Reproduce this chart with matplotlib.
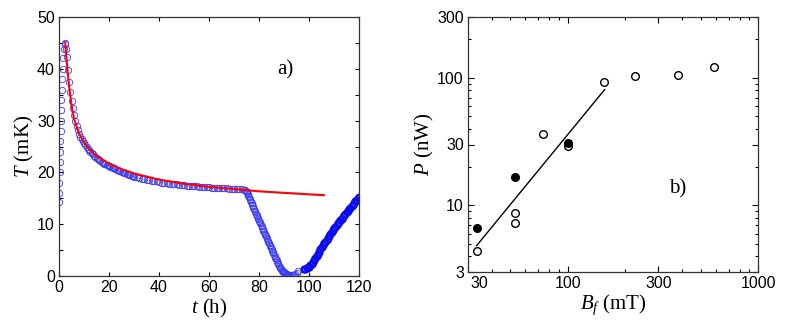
import matplotlib.pyplot as plt
import matplotlib.transforms as mtransforms
from matplotlib.ticker import MultipleLocator, LogLocator, NullFormatter, FixedLocator

# panel a) readings (t in h, T in mK), one list of (t, T) pairs per part of the run
rise = [(0.05, 14.3), (0.1, 16.0), (0.15, 18.0), (0.2, 20.0), (0.3, 22.0), (0.4, 24.0),
        (0.5, 26.0), (0.6, 28.0), (0.7, 30.0), (0.8, 32.0), (0.9, 34.0), (1.0, 36.0),
        (1.2, 38.0), (1.4, 40.0), (1.6, 42.0), (1.9, 43.8), (2.2, 44.8), (2.5, 45.0),
        (2.7, 43.8)]

decay = [(3.0, 42.3), (3.5, 39.8), (4.0, 37.4), (4.5, 35.5), (5.0, 33.8), (5.5, 32.4),
         (6.0, 31.1), (6.5, 30.0), (7.0, 29.0), (7.5, 28.2), (8.0, 27.5), (8.5, 26.9),
         (9.0, 26.4), (9.5, 26.0), (10.0, 25.6), (10.5, 25.2), (11.0, 24.9), (11.5, 24.6),
         (12.0, 24.3), (12.5, 24.0), (13.0, 23.7), (13.5, 23.5), (14.0, 23.2), (14.5, 23.0),
         (15.0, 22.8), (15.5, 22.6), (16.0, 22.4), (16.5, 22.2), (17.0, 22.0), (17.5, 21.9),
         (18.0, 21.7), (18.5, 21.6), (19.0, 21.5), (19.5, 21.4), (20.0, 21.3), (20.5, 21.1),
         (21.0, 21.0), (21.5, 20.9), (22.0, 20.8), (22.5, 20.7), (23.0, 20.55), (23.5, 20.45),
         (24.0, 20.3), (24.5, 20.2), (25.0, 20.1), (25.5, 20.0), (26.0, 19.9), (26.5, 19.8),
         (27.0, 19.7), (27.5, 19.6), (28.0, 19.5), (28.5, 19.45), (29.0, 19.35), (29.5, 19.3),
         (30.0, 19.2), (31, 19.05), (32, 18.95), (33, 18.8), (34, 18.7), (35, 18.6),
         (36, 18.5), (37, 18.4), (38, 18.3), (39, 18.25), (40, 18.15), (41, 18.05),
         (42, 18.0), (43, 17.9), (44, 17.85), (45, 17.8), (46, 17.75), (47, 17.7),
         (48, 17.6), (49, 17.55), (50, 17.5), (51, 17.45), (52, 17.4), (53, 17.4),
         (54, 17.35), (55, 17.3), (56, 17.25), (57, 17.2), (58, 17.2), (59, 17.15),
         (60, 17.1), (61, 17.05), (62, 17.05), (63, 17.0), (64, 17.0), (65, 16.95),
         (66, 16.9), (67, 16.9), (68, 16.85), (69, 16.85), (70, 16.8), (71, 16.8),
         (72, 16.75), (73, 16.7), (74, 16.65), (74.5, 16.6)]

drop = [(74.75, 16.5), (75.0, 16.3), (75.25, 16.05), (75.5, 15.8), (75.75, 15.5),
        (76.0, 15.2), (76.25, 14.9), (76.5, 14.6), (76.75, 14.3), (77.0, 14.0),
        (77.25, 13.7), (77.5, 13.45), (77.75, 13.2), (78.0, 12.9), (78.25, 12.6),
        (78.5, 12.35), (78.75, 12.05), (79.0, 11.8), (79.25, 11.5), (79.5, 11.25),
        (79.75, 10.95), (80.0, 10.7), (80.25, 10.4), (80.5, 10.15), (80.75, 9.85),
        (81.0, 9.6), (81.25, 9.3), (81.5, 9.05), (81.75, 8.75), (82.0, 8.5),
        (82.25, 8.2), (82.5, 7.95), (82.75, 7.65), (83.0, 7.4), (83.25, 7.1),
        (83.5, 6.85), (83.75, 6.55), (84.0, 6.3), (84.25, 6.0), (84.5, 5.75),
        (84.75, 5.45), (85.0, 5.2), (85.25, 4.9), (85.5, 4.65), (85.75, 4.35),
        (86.0, 4.1), (86.25, 3.8), (86.5, 3.55), (86.75, 3.25), (87.0, 3.0),
        (87.25, 2.75), (87.5, 2.5), (87.75, 2.25), (88.0, 2.0), (88.25, 1.8),
        (88.5, 1.6), (88.75, 1.4), (89.0, 1.2), (89.25, 1.05), (89.5, 0.9),
        (89.75, 0.8), (90.0, 0.7), (90.25, 0.6), (90.5, 0.5), (90.75, 0.4),
        (91.0, 0.35), (91.5, 0.25), (92.0, 0.2), (92.5, 0.2), (93.0, 0.2),
        (93.5, 0.2), (94.0, 0.25), (94.5, 0.35), (95.0, 0.5), (95.7, 0.9)]

recover = [(98.0, 1.3), (98.5, 1.4), (99.0, 1.5), (99.5, 1.65), (100.0, 1.8), (100.5, 2.05),
           (101.0, 2.3), (101.5, 2.65), (102.0, 3.0), (102.5, 3.4), (103.0, 3.8),
           (103.5, 4.25), (104.0, 4.7), (104.5, 5.15), (105.0, 5.6), (105.5, 5.95),
           (106.0, 6.3), (106.5, 6.65), (107.0, 7.0), (107.5, 7.4), (108.0, 7.8),
           (108.5, 8.15), (109.0, 8.5), (109.5, 8.85), (110.0, 9.2), (110.5, 9.55),
           (111.0, 9.9), (111.5, 10.2), (112.0, 10.5), (112.5, 10.8), (113.0, 11.1),
           (113.5, 11.4), (114.0, 11.7), (114.5, 12.0), (115.0, 12.3), (115.5, 12.6),
           (116.0, 12.9), (116.5, 13.2), (117.0, 13.5), (117.5, 13.8), (118.0, 14.1),
           (118.5, 14.4), (119.0, 14.7), (119.5, 15.0), (120.0, 15.3)]

t_fit = [2.5, 3, 4, 5, 6, 8, 10, 12, 15, 20, 25, 30, 40, 50, 60, 70, 80, 90, 106]
T_fit = [45.0, 41.8, 36.8, 33.0, 30.4, 27.5, 25.8, 24.5, 23.1, 21.7, 20.6, 19.8,
         18.6, 17.8, 17.2, 16.8, 16.35, 16.05, 15.6]

# panel b) data, B_f in mT, P in nW
B_open = [33.3, 52.8, 52.8, 74.6, 100, 155, 225, 381, 584]
P_open = [4.36, 8.7, 7.25, 36.3, 29.4, 92.3, 104, 106, 122]
B_filled = [33.3, 52.8, 100]
P_filled = [6.6, 16.8, 30.6]
B_line = [33.3, 156.5]
P_line = [4.83, 80.8]

serif = 'Liberation Serif'
plt.rcParams['font.family'] = 'Liberation Sans'
plt.rcParams['mathtext.fontset'] = 'custom'
plt.rcParams['mathtext.rm'] = 'Liberation Serif'
plt.rcParams['mathtext.it'] = 'Liberation Serif:italic'

fig = plt.figure(figsize=(7.89, 3.21), dpi=100)
ax1 = fig.add_axes([59 / 789, 1 - 276 / 321, 300 / 789, 259 / 321])
ax2 = fig.add_axes([468 / 789, 1 - 272 / 321, 290 / 789, 255 / 321])

mk = dict(marker='o', ls='none', mfc='none', mec='#3a3af5', ms=4.6, mew=0.6)
for part in (rise, decay, drop):
    ax1.plot([p[0] for p in part], [p[1] for p in part], **mk)
ax1.plot([p[0] for p in recover], [p[1] for p in recover],
         **dict(mk, mec='#0a0af5', mew=1.3))
ax1.plot(t_fit, T_fit, color='#ff0000', lw=1.5, zorder=5)

ax1.set_xlim(0, 120)
ax1.set_ylim(0, 50)
ax1.xaxis.set_major_locator(MultipleLocator(20))
ax1.yaxis.set_major_locator(MultipleLocator(10))
ax1.yaxis.set_minor_locator(MultipleLocator(5))
ax1.tick_params(which='both', direction='in', top=True, right=True, labelsize=11.5,
                width=0.8, pad=3, length=3)
ax1.set_xlabel('$t$ (h)', fontsize=15, family=serif, labelpad=1)
ax1.set_ylabel('$T$ (mK)', fontsize=15, family=serif, labelpad=1)
ax1.text(0.727, 0.795, 'a)', transform=ax1.transAxes, fontsize=15, family=serif,
         va='center')

ax2.plot(B_line, P_line, color='black', lw=1.0)
ax2.plot(B_open, P_open, marker='o', ls='none', mfc='white', mec='black', ms=5.5, mew=1.0)
ax2.plot(B_filled, P_filled, marker='o', ls='none', mfc='black', mec='black', ms=5.5, mew=1.0)

ax2.set_xscale('log')
ax2.set_yscale('log')
ax2.set_xlim(30, 1000)
ax2.set_ylim(3, 300)
ax2.xaxis.set_major_locator(FixedLocator([30, 100, 300, 1000]))
ax2.yaxis.set_major_locator(FixedLocator([3, 10, 30, 100, 300]))
ax2.xaxis.set_major_formatter(plt.FuncFormatter(lambda v, p: f'{v:g}'))
ax2.yaxis.set_major_formatter(plt.FuncFormatter(lambda v, p: f'{v:g}'))
ax2.xaxis.set_minor_locator(LogLocator(subs=range(2, 10)))
ax2.yaxis.set_minor_locator(LogLocator(subs=range(2, 10)))
ax2.xaxis.set_minor_formatter(NullFormatter())
ax2.yaxis.set_minor_formatter(NullFormatter())
ax2.tick_params(which='both', direction='in', top=True, right=True, labelsize=11.5,
                width=0.8, pad=3)
ax2.tick_params(which='major', length=4)
ax2.tick_params(which='minor', length=2)
ax2.set_xlabel('$B_f$ (mT)', fontsize=15, family=serif, labelpad=1)
ax2.set_ylabel('$P$ (nW)', fontsize=15, family=serif, labelpad=1)
ax2.text(0.693, 0.325, 'b)', transform=ax2.transAxes, fontsize=15, family=serif,
         va='center')

# the "30" label sits a bit right of the axis corner, clear of the "3"
fig.canvas.draw()
lab30 = ax2.get_xticklabels()[0]
lab30.set_transform(lab30.get_transform() +
                    mtransforms.ScaledTranslation(8 / 72, 0, fig.dpi_scale_trans))

for ax in (ax1, ax2):
    for s in ax.spines.values():
        s.set_linewidth(0.9)
        s.set_color('#333333')

fig.savefig('out.png', dpi=100)
